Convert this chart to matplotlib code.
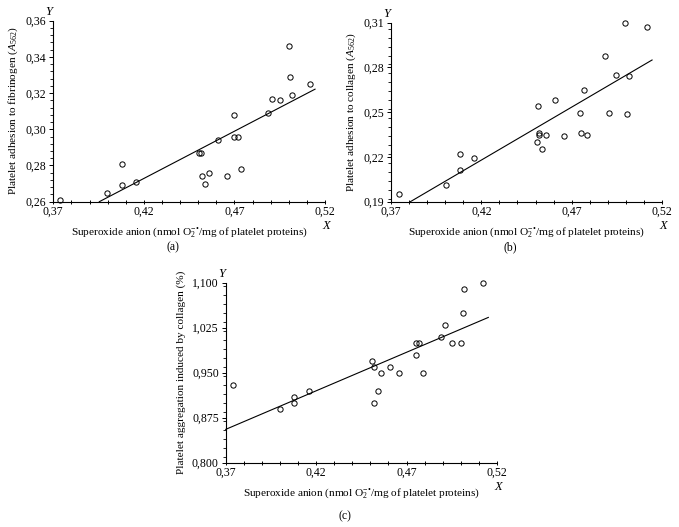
import numpy as np
import matplotlib
matplotlib.use('Agg')
import matplotlib.pyplot as plt
from matplotlib.ticker import FixedLocator, MultipleLocator, FuncFormatter

plt.rcParams['font.family'] = ['Liberation Serif', 'DejaVu Serif']
plt.rcParams['mathtext.fontset'] = 'custom'
plt.rcParams['mathtext.rm'] = 'Liberation Serif'
plt.rcParams['mathtext.it'] = 'Liberation Serif:italic'
plt.rcParams['mathtext.bf'] = 'Liberation Serif:bold'

# panel (a): adhesion to fibrinogen
xa = [0.3739, 0.3998, 0.4079, 0.4079, 0.4156, 0.4504, 0.4517, 0.4519, 0.4539, 0.4558,
      0.4607, 0.4657, 0.4697, 0.4697, 0.4717, 0.4738, 0.4887, 0.4909, 0.4950, 0.4999,
      0.5009, 0.5020, 0.5119]
ya = [0.261, 0.265, 0.269, 0.281, 0.271, 0.287, 0.287, 0.274, 0.270, 0.276,
      0.294, 0.274, 0.308, 0.296, 0.296, 0.278, 0.309, 0.317, 0.316, 0.346,
      0.329, 0.319, 0.325]
fit_a = (0.0536, 0.522, 0.3954, 0.5145)  # intercept, slope, x start, x end

# panel (b): adhesion to collagen
xb = [0.3746, 0.4002, 0.4083, 0.4083, 0.4162, 0.4511, 0.4509, 0.4520, 0.4520, 0.4538,
      0.4560, 0.4608, 0.4658, 0.4747, 0.4769, 0.4749, 0.4787, 0.4887, 0.4907, 0.4947,
      0.4995, 0.5005, 0.5016, 0.5115]
yb = [0.195, 0.201, 0.211, 0.222, 0.219, 0.254, 0.230, 0.2363, 0.2349, 0.225,
      0.235, 0.258, 0.234, 0.2497, 0.265, 0.236, 0.235, 0.288, 0.2497, 0.275,
      0.310, 0.2488, 0.274, 0.307]
fit_b = (-0.0803, 0.710, 0.3807, 0.5145)

# panel (c): aggregation induced by collagen
xc = [0.3739, 0.4000, 0.4080, 0.4080, 0.4159, 0.4509, 0.4520, 0.4521, 0.4540, 0.4560,
      0.4610, 0.4660, 0.4750, 0.4750, 0.4770, 0.4790, 0.4890, 0.4910, 0.4950, 0.5000,
      0.5010, 0.5020, 0.5120]
yc = [0.929, 0.889, 0.899, 0.909, 0.919, 0.969, 0.899, 0.959, 0.919, 0.949,
      0.959, 0.949, 0.979, 0.999, 0.999, 0.949, 1.009, 1.029, 0.999, 0.999,
      1.049, 1.089, 1.100]
fit_c = (0.3801, 1.285, 0.3700, 0.5152)

xticks = [0.37, 0.42, 0.47, 0.52]
yticks_a = [0.26, 0.28, 0.30, 0.32, 0.34, 0.36]
yticks_b = [0.19, 0.22, 0.25, 0.28, 0.31]
yticks_c = [0.800, 0.875, 0.950, 1.025, 1.100]

xlabel = 'Superoxide anion (nmol O$_2^{-\u2022}$/mg of platelet proteins)'
ylab_a = 'Platelet adhesion to fibrinogen ($\\mathit{A}_{562}$)'
ylab_b = 'Platelet adhesion to collagen ($\\mathit{A}_{562}$)'
ylab_c = 'Platelet aggregation induced by collagen (%)'

W, H = 679, 527
fig = plt.figure(figsize=(W / 100, H / 100), dpi=100)


def px_axes(left, top, right, bottom):
    return fig.add_axes([left / W, 1 - bottom / H, (right - left) / W, (bottom - top) / H])


def comma_fmt(nd):
    return FuncFormatter(lambda v, p: ('%.*f' % (nd, v)).replace('.', ','))


def panel(ax, x, y, fit, yticks, nd, ylab, tag, tag_y):
    ax.plot(x, y, 'o', mfc='none', mec='black', ms=3.8, mew=0.7, clip_on=False)
    b0, b1, x0, x1 = fit
    lx = np.array([x0, x1])
    ax.plot(lx, b0 + b1 * lx, color='black', lw=0.8, clip_on=False)
    ax.set_xlim(0.37, 0.52)
    ax.set_ylim(yticks[0], yticks[-1])
    for s in ['top', 'right']:
        ax.spines[s].set_visible(False)
    for s in ['left', 'bottom']:
        ax.spines[s].set_linewidth(0.8)
    ax.xaxis.set_major_locator(FixedLocator(xticks))
    ax.xaxis.set_minor_locator(MultipleLocator(0.01))
    ax.yaxis.set_major_locator(FixedLocator(yticks))
    step = (yticks[1] - yticks[0]) / 5
    ax.yaxis.set_minor_locator(MultipleLocator(step))
    ax.xaxis.set_major_formatter(comma_fmt(2))
    ax.yaxis.set_major_formatter(comma_fmt(nd))
    ax.tick_params(axis='x', which='both', direction='inout', length=3, width=0.7,
                   labelsize=8.5, pad=1.5)
    ax.tick_params(axis='y', which='major', direction='out', length=3, width=0.7,
                   labelsize=8.5, pad=2)
    ax.tick_params(axis='y', which='minor', direction='out', length=2, width=0.6)
    ax.set_xlabel(xlabel, fontsize=8.1, labelpad=5)
    ax.set_ylabel(ylab, fontsize=8.1, labelpad=4)
    ax.text(-0.015, 1.015, 'Y', transform=ax.transAxes, fontsize=9, style='italic',
            ha='center', va='bottom')
    ax.text(1.005, -0.137, 'X', transform=ax.transAxes, fontsize=9, style='italic',
            ha='center', va='center')
    ax.text(0.44, tag_y, tag, transform=ax.transAxes, fontsize=8.5,
            ha='center', va='center')


ax_a = px_axes(53.3, 20.7, 325, 201.7)
panel(ax_a, xa, ya, fit_a, yticks_a, 2, ylab_a, '(a)', -0.25)

ax_b = px_axes(391, 22.7, 662, 201.7)
panel(ax_b, xb, yb, fit_b, yticks_b, 2, ylab_b, '(b)', -0.253)

ax_c = px_axes(225.7, 282.7, 497, 462.7)
panel(ax_c, xc, yc, fit_c, yticks_c, 3, ylab_c, '(c)', -0.30)

fig.savefig('out.png', dpi=100, facecolor='white')
